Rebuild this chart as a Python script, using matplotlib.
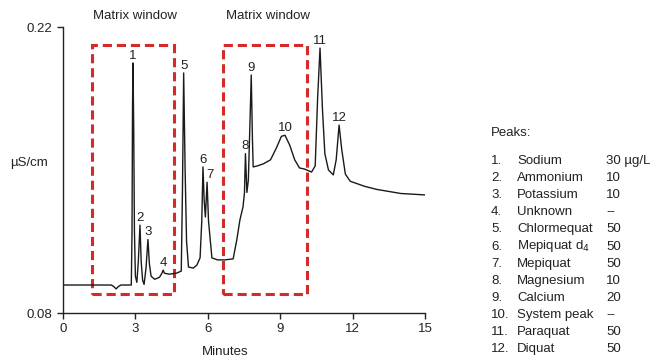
import matplotlib
matplotlib.use("Agg")
import matplotlib.pyplot as plt
from matplotlib.patches import Rectangle

plt.rcParams["font.family"] = ["Liberation Sans", "DejaVu Sans"]

# chromatogram trace (minutes, uS/cm)
times = [0.0, 2.0, 2.1, 2.2, 2.3, 2.4, 2.83, 2.86, 2.88, 2.90, 2.93, 2.96, 3.0, 3.06,
         3.12, 3.19, 3.24, 3.30, 3.36, 3.44, 3.52, 3.58, 3.65, 3.8, 4.0, 4.1, 4.15,
         4.2, 4.4, 4.7, 4.9, 4.95, 5.0, 5.06, 5.12, 5.2, 5.4, 5.55, 5.68, 5.75, 5.80,
         5.85, 5.90, 5.97, 6.03, 6.17, 6.4, 6.7, 7.05, 7.2, 7.33, 7.46, 7.52, 7.56,
         7.62, 7.68, 7.74, 7.8, 7.85, 7.88, 8.05, 8.3, 8.6, 8.85, 9.05, 9.2, 9.4,
         9.6, 9.8, 10.0, 10.3, 10.45, 10.55, 10.65, 10.75, 10.85, 11.0, 11.2, 11.32,
         11.44, 11.55, 11.7, 11.9, 12.5, 13.0, 14.0, 15.0]
signal = [0.0937, 0.0937, 0.0930, 0.0918, 0.0930, 0.0937, 0.0937, 0.120, 0.180, 0.2024,
          0.170, 0.120, 0.098, 0.095, 0.105, 0.123, 0.105, 0.096, 0.094, 0.102, 0.116,
          0.104, 0.098, 0.0965, 0.0975, 0.0995, 0.101, 0.0995, 0.0990, 0.0995, 0.1005,
          0.140, 0.1975, 0.150, 0.115, 0.1025, 0.102, 0.1035, 0.107, 0.125, 0.1515,
          0.135, 0.127, 0.144, 0.125, 0.107, 0.106, 0.106, 0.1065, 0.1157, 0.1255,
          0.132, 0.139, 0.158, 0.139, 0.145, 0.170, 0.1965, 0.165, 0.1515, 0.152,
          0.153, 0.155, 0.161, 0.1665, 0.167, 0.162, 0.155, 0.151, 0.1505, 0.149,
          0.152, 0.185, 0.2097, 0.180, 0.158, 0.150, 0.1476, 0.155, 0.172, 0.160,
          0.148, 0.1445, 0.142, 0.1405, 0.1385, 0.1378]

peak_ids = ["1", "2", "3", "4", "5", "6", "7", "8", "9", "10", "11", "12"]
peak_times = [2.90, 3.19, 3.52, 4.15, 5.0, 5.80, 5.97, 7.56, 7.8, 9.2, 10.65, 11.44]
peak_heights = [0.2024, 0.123, 0.116, 0.101, 0.1975, 0.1515, 0.144, 0.158, 0.1965,
                0.167, 0.2097, 0.172]

windows = [(1.2, 4.58), (6.63, 10.12)]
window_low, window_high = 0.0893, 0.2112

peak_names = ["Sodium", "Ammonium", "Potassium", "Unknown", "Chlormequat",
              "Mepiquat d$_4$", "Mepiquat", "Magnesium", "Calcium", "System peak",
              "Paraquat", "Diquat"]
peak_conc = ["30 µg/L", "10", "10", "--", "50", "50", "50", "10", "20", "--", "50", "50"]

W, H = 659, 360
fig = plt.figure(figsize=(W / 100, H / 100), dpi=100)
ax = fig.add_axes([63 / W, 1 - 313 / H, 362 / W, 286 / H])

ax.plot(times, signal, color="#1a1a1a", lw=1.0)

for x0, x1 in windows:
    ax.add_patch(Rectangle((x0, window_low), x1 - x0, window_high - window_low,
                           fill=False, edgecolor="#d42a2a", lw=2.2,
                           linestyle=(0, (3, 1.6)), clip_on=False))
    ax.text((x0 + x1) / 2 + 0.1, 0.2255, "Matrix window", ha="center", va="center",
            fontsize=9.5, color="#222222")

for pid, pt, ph in zip(peak_ids, peak_times, peak_heights):
    dx = 2 if pid == "7" else 0
    ax.annotate(pid, (pt, ph), xytext=(dx, 1), textcoords="offset points",
                ha="center", va="bottom", fontsize=9.5, color="#222222")

ax.set_xlim(0, 15)
ax.set_ylim(0.08, 0.22)
ax.set_xticks([0, 3, 6, 9, 12, 15])
ax.set_yticks([0.08, 0.22])
ax.set_yticklabels(["0.08", "0.22"])
ax.tick_params(labelsize=9.5, colors="#222222", length=4, width=1)
for side in ["top", "right"]:
    ax.spines[side].set_visible(False)
for side in ["left", "bottom"]:
    ax.spines[side].set_linewidth(1.0)
    ax.spines[side].set_color("#222222")

fig.text(10 / W, 1 - 163 / H, "µS/cm", ha="left", va="center", fontsize=9.5,
         color="#222222")
fig.text(225 / W, 1 - 352 / H, "Minutes", ha="center", va="center", fontsize=9.5,
         color="#222222")

fig.text(491 / W, 1 - 133 / H, "Peaks:", ha="left", va="center", fontsize=9.5,
         color="#222222")
row0, step = 161, 17.1
for i, (name, conc) in enumerate(zip(peak_names, peak_conc)):
    y = 1 - (row0 + i * step) / H
    fig.text(491 / W, y, f"{i + 1}.", ha="left", va="center", fontsize=9.5, color="#222222")
    fig.text(517 / W, y, name, ha="left", va="center", fontsize=9.5, color="#222222")
    fig.text(606 / W, y, conc, ha="left", va="center", fontsize=9.5, color="#222222")

fig.savefig("out.png", dpi=100)
